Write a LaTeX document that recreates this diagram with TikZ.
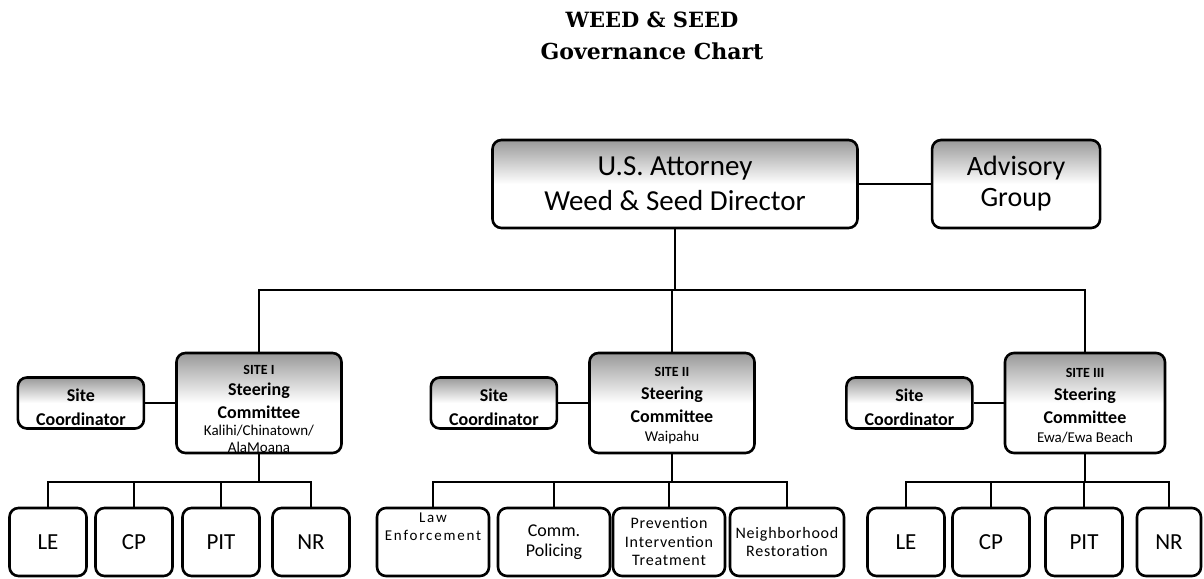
\documentclass[tikz,border=0pt]{standalone}
\usepackage{fontspec}
\setmainfont{Carlito}
\newfontfamily\titlefont{DejaVu Serif}
\usepackage{tikz}
\usetikzlibrary{positioning}

\begin{document}
\begin{tikzpicture}[x = 1pt, y = -1pt,
        Node/.style = {rectangle, rounded corners = 9pt, draw = black, line width = 2.6pt, inner sep = 0pt, align = center},
        Shade/.style = {top color = black!40, bottom color = white, middle color = white},
        Site/.style = {Node, Shade, minimum width = 165pt, minimum height = 100pt, font = \bfseries\fontsize{18}{23}\selectfont},
        Coord/.style = {Node, Shade, minimum width = 126pt, minimum height = 51pt, font = \bfseries\fontsize{18}{24}\selectfont},
        Unit/.style = {Node, minimum width = 77pt, minimum height = 68pt, font = \fontsize{23}{26}\selectfont},
        Wide/.style = {Node, minimum width = 112pt, minimum height = 68pt, font = \fontsize{16}{18.5}\selectfont\addfontfeatures{LetterSpace=5}},
        Line/.style = {line width = 2.4pt}]
        \useasboundingbox (0,0) rectangle (1204,578);

        \node [font = \titlefont\bfseries\fontsize{21}{32}\selectfont, align = center] (0) at (652,36) {WEED \& SEED\\{\fontsize{22}{32}\selectfont Governance Chart}};

        \node [Node, Shade, minimum width = 365pt, minimum height = 88pt, font = \fontsize{29}{35}\selectfont] (1) at (675,184) {U.S. Attorney\\Weed \& Seed Director};
        \node [Node, Shade, minimum width = 168pt, minimum height = 88pt, font = \fontsize{28}{31}\selectfont, right = 72pt of 1] (2) {Advisory\\Group};

        \node [Site] (3) at (259,403) {{\fontsize{14}{14}\selectfont\rule{0pt}{21pt}SITE I}\\[-2pt]Steering\\Committee\\[-6pt]{\mdseries\fontsize{15}{15}\selectfont Kalihi/Chinatown/}\\[-6pt]{\mdseries\fontsize{15}{15}\selectfont AlaMoana}};
        \node [Coord, left = 30pt of 3] (4) {\rule{0pt}{21pt}Site\\Coordinator};
        \node [Site] (5) at (672,403) {{\fontsize{14}{14}\selectfont\rule{0pt}{14pt}SITE II}\\Steering\\Committee\\[-4pt]{\mdseries\fontsize{15}{15}\selectfont Waipahu}};
        \node [Coord, left = 30pt of 5] (6) {\rule{0pt}{21pt}Site\\Coordinator};
        \node [Site, minimum width = 160pt] (7) at (1085,403) {{\fontsize{14}{14}\selectfont\rule{0pt}{14pt}SITE III}\\Steering\\Committee\\[-4pt]{\mdseries\fontsize{15}{15}\selectfont Ewa/Ewa Beach}};
        \node [Coord, left = 30pt of 7] (8) {\rule{0pt}{21pt}Site\\Coordinator};

        \node [Unit] (9) at (48,542) {LE};
        \node [Unit] (10) at (134,542) {CP};
        \node [Unit] (11) at (221,542) {PIT};
        \node [Unit] (12) at (311,542) {NR};

        \node [Wide, font = \fontsize{15}{18}\selectfont\addfontfeatures{LetterSpace=12}] (13) at (433,542) {Law\\Enforcement\rule[-30pt]{0pt}{30pt}};
        \node [Wide, font = \fontsize{18}{20}\selectfont] (14) at (554,542) {Comm.\\Policing};
        \node [Wide] (15) at (669,542) {Prevention\\Intervention\\Treatment};
        \node [Wide, minimum width = 114pt] (16) at (787,542) {Neighborhood\\Restoration};

        \node [Unit] (17) at (906,542) {LE};
        \node [Unit] (18) at (991,542) {CP};
        \node [Unit] (19) at (1084,542) {PIT};
        \node [Unit, minimum width = 64pt] (20) at (1169,542) {NR};

        % buses
        \coordinate (b0) at (675,290);
        \coordinate (b1) at (259,482);
        \coordinate (b2) at (672,482);
        \coordinate (b3) at (1085,482);

        \draw [Line] (1) -- (2);
        \draw [Line] (1) -- (b0);
        \draw [Line] (3) |- (b0) -| (7);
        \draw [Line] (b0) -| (5);
        \draw [Line] (4) -- (3);
        \draw [Line] (6) -- (5);
        \draw [Line] (8) -- (7);

        \draw [Line] (3) -- (b1);
        \draw [Line] (5) -- (b2);
        \draw [Line] (7) -- (b3);
        \foreach \n in {9,...,12} \draw [Line] (b1) -| (\n);
        \foreach \n in {13,...,16} \draw [Line] (b2) -| (\n);
        \foreach \n in {17,...,20} \draw [Line] (b3) -| (\n);
    \end{tikzpicture}
\end{document}
